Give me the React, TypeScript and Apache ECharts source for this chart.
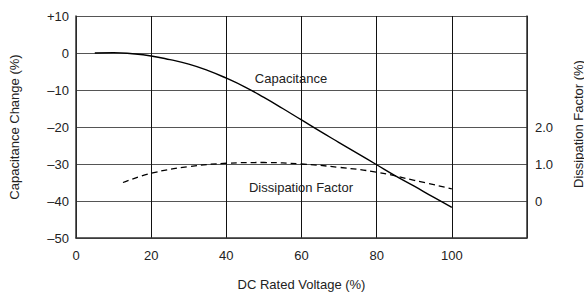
import React, { useEffect, useRef } from "react";
import * as echarts from "echarts";

const voltageTicks = [0, 20, 40, 60, 80, 100];
const capVoltage = [5, 10, 15, 20, 25, 30, 35, 40, 45, 50, 55, 60, 65, 70, 75, 80, 85, 90, 95, 100];
const capChange = [0, 0.1, -0.2, -0.8, -1.8, -3.0, -4.7, -6.8, -9.2, -12.0, -15.0, -18.1, -21.2, -24.2, -27.2, -30.2, -33.2, -36.0, -38.9, -41.7];
const dfVoltage = [12.5, 20, 30, 40, 50, 60, 70, 80, 90, 100];
const dfValue = [0.5, 0.75, 0.93, 1.02, 1.04, 1.0, 0.91, 0.78, 0.56, 0.33];
const dfTickLabels = ["0", "1.0", "2.0"];

const FONT = "'Liberation Sans', Arial, sans-serif";
const TXT = "#222";

function fmtLeft(v: number): string {
  if (v > 0) return "+" + v;
  if (v < 0) return "\u2013" + Math.abs(v);
  return "0";
}

export default function App() {
  const ref = useRef<HTMLDivElement>(null);
  useEffect(() => {
    document.body.style.margin = "0";
    if (!ref.current) return;
    const chart = echarts.init(ref.current, null, { renderer: "svg" });
    chart.setOption({
      animation: false,
      backgroundColor: "#fff",
      textStyle: { fontFamily: FONT },
      grid: { left: 73, top: 16, width: 454, height: 226, containLabel: false },
      xAxis: {
        type: "value",
        min: 0,
        max: 120,
        interval: 20,
        name: "DC Rated Voltage (%)",
        nameLocation: "middle",
        nameGap: 40,
        nameTextStyle: { fontSize: 13, color: TXT, fontFamily: FONT },
        axisLine: { show: true, onZero: false, lineStyle: { color: "#333", width: 1.5 } },
        axisTick: { show: false },
        axisLabel: {
          fontSize: 13,
          color: TXT,
          fontFamily: FONT,
          margin: 11,
          formatter: (v: number) => (voltageTicks.indexOf(v) >= 0 ? String(v) : ""),
        },
        splitLine: { show: true, lineStyle: { color: "#111", width: 1 } },
      },
      yAxis: [
        {
          type: "value",
          min: -50,
          max: 10,
          interval: 10,
          name: "Capacitance Change (%)",
          nameLocation: "middle",
          nameGap: 55,
          nameRotate: 90,
          nameTextStyle: { fontSize: 13, color: TXT, fontFamily: FONT },
          axisLine: { show: true, lineStyle: { color: "#333", width: 1.5 } },
          axisTick: { show: false },
          axisLabel: { fontSize: 13, color: TXT, fontFamily: FONT, margin: 7, formatter: fmtLeft },
          splitLine: { show: true, lineStyle: { color: "#555", width: 1 } },
        },
        {
          type: "value",
          min: -1,
          max: 5,
          interval: 1,
          position: "right",
          axisLine: { show: true, lineStyle: { color: "#333", width: 1.5 } },
          axisTick: { show: false },
          axisLabel: {
            fontSize: 13,
            color: TXT,
            fontFamily: FONT,
            margin: 8,
            formatter: (v: number) => (v >= 0 && v <= 2 ? dfTickLabels[v] : ""),
          },
          splitLine: { show: false },
        },
      ],
      graphic: [
        {
          type: "text",
          x: 578,
          y: 124,
          rotation: Math.PI / 2,
          style: {
            text: "Dissipation Factor (%)",
            fontSize: 13,
            fontFamily: FONT,
            fill: TXT,
            align: "center",
            verticalAlign: "middle",
          },
        },
        {
          type: "text",
          x: 291,
          y: 78,
          style: { text: "Capacitance", fontSize: 13, fontFamily: FONT, fill: TXT, align: "center", verticalAlign: "middle" },
        },
        {
          type: "text",
          x: 301,
          y: 187,
          style: { text: "Dissipation Factor", fontSize: 13, fontFamily: FONT, fill: TXT, align: "center", verticalAlign: "middle" },
        },
      ],
      series: [
        {
          name: "Capacitance",
          type: "line",
          yAxisIndex: 0,
          smooth: 0.5,
          symbol: "none",
          lineStyle: { color: "#000", width: 1.4 },
          data: capVoltage.map((x, i) => [x, capChange[i]]),
        },
        {
          name: "Dissipation Factor",
          type: "line",
          yAxisIndex: 1,
          smooth: 0.4,
          symbol: "none",
          lineStyle: { color: "#000", width: 1.3, type: [6, 4] },
          data: dfVoltage.map((x, i) => [x, dfValue[i]]),
        },
      ],
    });
    return () => chart.dispose();
  }, []);
  return <div ref={ref} style={{ width: 584, height: 296 }} />;
}
